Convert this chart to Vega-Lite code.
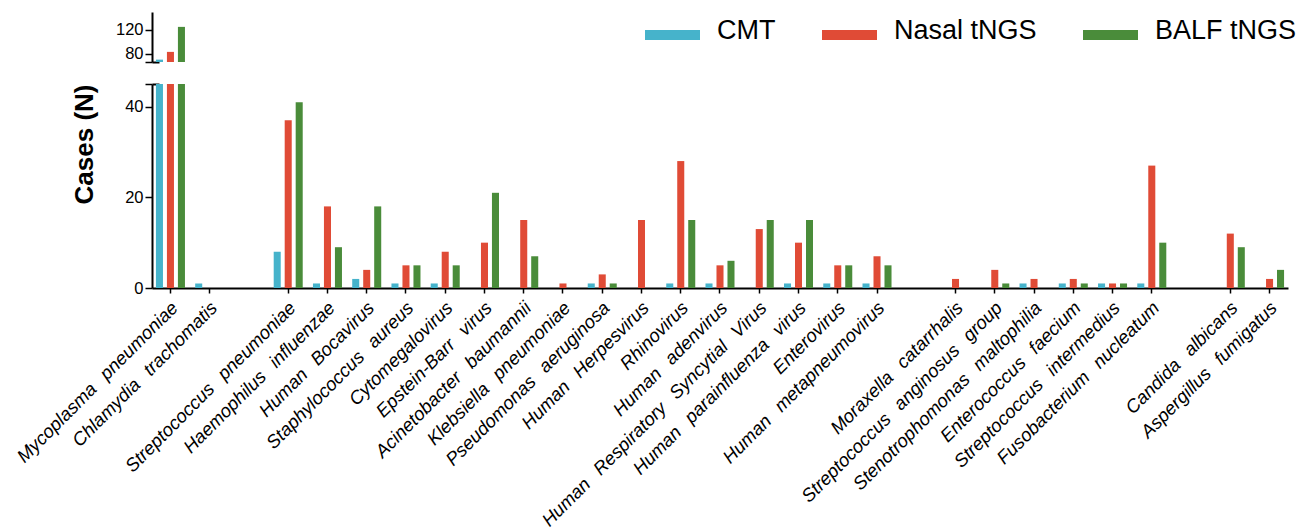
{
  "$schema": "https://vega.github.io/schema/vega-lite/v6.json",
  "padding": {"left": 13, "top": 3, "right": 5, "bottom": 0},
  "config": {
    "font": "Liberation Sans",
    "view": {"stroke": null},
    "axis": {"grid": false, "domainColor": "black", "tickColor": "black", "labelColor": "black", "titleColor": "black", "domainWidth": 2, "tickWidth": 1.5}
  },
  "data": {"values": [
    {"pathogen": "Mycoplasma pneumoniae", "method": "CMT", "cases": 70},
    {"pathogen": "Mycoplasma pneumoniae", "method": "Nasal tNGS", "cases": 83},
    {"pathogen": "Mycoplasma pneumoniae", "method": "BALF tNGS", "cases": 125},
    {"pathogen": "Chlamydia trachomatis", "method": "CMT", "cases": 1},
    {"pathogen": "Chlamydia trachomatis", "method": "Nasal tNGS", "cases": 0},
    {"pathogen": "Chlamydia trachomatis", "method": "BALF tNGS", "cases": 0},
    {"pathogen": "Streptococcus pneumoniae", "method": "CMT", "cases": 8},
    {"pathogen": "Streptococcus pneumoniae", "method": "Nasal tNGS", "cases": 37},
    {"pathogen": "Streptococcus pneumoniae", "method": "BALF tNGS", "cases": 41},
    {"pathogen": "Haemophilus influenzae", "method": "CMT", "cases": 1},
    {"pathogen": "Haemophilus influenzae", "method": "Nasal tNGS", "cases": 18},
    {"pathogen": "Haemophilus influenzae", "method": "BALF tNGS", "cases": 9},
    {"pathogen": "Human Bocavirus", "method": "CMT", "cases": 2},
    {"pathogen": "Human Bocavirus", "method": "Nasal tNGS", "cases": 4},
    {"pathogen": "Human Bocavirus", "method": "BALF tNGS", "cases": 18},
    {"pathogen": "Staphylococcus aureus", "method": "CMT", "cases": 1},
    {"pathogen": "Staphylococcus aureus", "method": "Nasal tNGS", "cases": 5},
    {"pathogen": "Staphylococcus aureus", "method": "BALF tNGS", "cases": 5},
    {"pathogen": "Cytomegalovirus", "method": "CMT", "cases": 1},
    {"pathogen": "Cytomegalovirus", "method": "Nasal tNGS", "cases": 8},
    {"pathogen": "Cytomegalovirus", "method": "BALF tNGS", "cases": 5},
    {"pathogen": "Epstein-Barr virus", "method": "CMT", "cases": 0},
    {"pathogen": "Epstein-Barr virus", "method": "Nasal tNGS", "cases": 10},
    {"pathogen": "Epstein-Barr virus", "method": "BALF tNGS", "cases": 21},
    {"pathogen": "Acinetobacter baumannii", "method": "CMT", "cases": 0},
    {"pathogen": "Acinetobacter baumannii", "method": "Nasal tNGS", "cases": 15},
    {"pathogen": "Acinetobacter baumannii", "method": "BALF tNGS", "cases": 7},
    {"pathogen": "Klebsiella pneumoniae", "method": "CMT", "cases": 0},
    {"pathogen": "Klebsiella pneumoniae", "method": "Nasal tNGS", "cases": 1},
    {"pathogen": "Klebsiella pneumoniae", "method": "BALF tNGS", "cases": 0},
    {"pathogen": "Pseudomonas aeruginosa", "method": "CMT", "cases": 1},
    {"pathogen": "Pseudomonas aeruginosa", "method": "Nasal tNGS", "cases": 3},
    {"pathogen": "Pseudomonas aeruginosa", "method": "BALF tNGS", "cases": 1},
    {"pathogen": "Human Herpesvirus", "method": "CMT", "cases": 0},
    {"pathogen": "Human Herpesvirus", "method": "Nasal tNGS", "cases": 15},
    {"pathogen": "Human Herpesvirus", "method": "BALF tNGS", "cases": 0},
    {"pathogen": "Rhinovirus", "method": "CMT", "cases": 1},
    {"pathogen": "Rhinovirus", "method": "Nasal tNGS", "cases": 28},
    {"pathogen": "Rhinovirus", "method": "BALF tNGS", "cases": 15},
    {"pathogen": "Human adenvirus", "method": "CMT", "cases": 1},
    {"pathogen": "Human adenvirus", "method": "Nasal tNGS", "cases": 5},
    {"pathogen": "Human adenvirus", "method": "BALF tNGS", "cases": 6},
    {"pathogen": "Human Respiratory Syncytial Virus", "method": "CMT", "cases": 0},
    {"pathogen": "Human Respiratory Syncytial Virus", "method": "Nasal tNGS", "cases": 13},
    {"pathogen": "Human Respiratory Syncytial Virus", "method": "BALF tNGS", "cases": 15},
    {"pathogen": "Human parainfluenza virus", "method": "CMT", "cases": 1},
    {"pathogen": "Human parainfluenza virus", "method": "Nasal tNGS", "cases": 10},
    {"pathogen": "Human parainfluenza virus", "method": "BALF tNGS", "cases": 15},
    {"pathogen": "Enterovirus", "method": "CMT", "cases": 1},
    {"pathogen": "Enterovirus", "method": "Nasal tNGS", "cases": 5},
    {"pathogen": "Enterovirus", "method": "BALF tNGS", "cases": 5},
    {"pathogen": "Human metapneumovirus", "method": "CMT", "cases": 1},
    {"pathogen": "Human metapneumovirus", "method": "Nasal tNGS", "cases": 7},
    {"pathogen": "Human metapneumovirus", "method": "BALF tNGS", "cases": 5},
    {"pathogen": "Moraxella catarrhalis", "method": "CMT", "cases": 0},
    {"pathogen": "Moraxella catarrhalis", "method": "Nasal tNGS", "cases": 2},
    {"pathogen": "Moraxella catarrhalis", "method": "BALF tNGS", "cases": 0},
    {"pathogen": "Streptococcus anginosus group", "method": "CMT", "cases": 0},
    {"pathogen": "Streptococcus anginosus group", "method": "Nasal tNGS", "cases": 4},
    {"pathogen": "Streptococcus anginosus group", "method": "BALF tNGS", "cases": 1},
    {"pathogen": "Stenotrophomonas maltophilia", "method": "CMT", "cases": 1},
    {"pathogen": "Stenotrophomonas maltophilia", "method": "Nasal tNGS", "cases": 2},
    {"pathogen": "Stenotrophomonas maltophilia", "method": "BALF tNGS", "cases": 0},
    {"pathogen": "Enterococcus faecium", "method": "CMT", "cases": 1},
    {"pathogen": "Enterococcus faecium", "method": "Nasal tNGS", "cases": 2},
    {"pathogen": "Enterococcus faecium", "method": "BALF tNGS", "cases": 1},
    {"pathogen": "Streptococcus intermedius", "method": "CMT", "cases": 1},
    {"pathogen": "Streptococcus intermedius", "method": "Nasal tNGS", "cases": 1},
    {"pathogen": "Streptococcus intermedius", "method": "BALF tNGS", "cases": 1},
    {"pathogen": "Fusobacterium nucleatum", "method": "CMT", "cases": 1},
    {"pathogen": "Fusobacterium nucleatum", "method": "Nasal tNGS", "cases": 27},
    {"pathogen": "Fusobacterium nucleatum", "method": "BALF tNGS", "cases": 10},
    {"pathogen": "Candida albicans", "method": "CMT", "cases": 0},
    {"pathogen": "Candida albicans", "method": "Nasal tNGS", "cases": 12},
    {"pathogen": "Candida albicans", "method": "BALF tNGS", "cases": 9},
    {"pathogen": "Aspergillus fumigatus", "method": "CMT", "cases": 0},
    {"pathogen": "Aspergillus fumigatus", "method": "Nasal tNGS", "cases": 2},
    {"pathogen": "Aspergillus fumigatus", "method": "BALF tNGS", "cases": 4}
  ]},
  "spacing": 20,
  "resolve": {"legend": {"color": "independent"}},
  "vconcat": [
    {
      "width": 1136,
      "height": 50,
      "layer": [
        {
          "mark": {"type": "bar", "clip": true},
          "encoding": {
            "x": {"field": "pathogen", "type": "nominal", "sort": null,
              "scale": {"domain": ["Mycoplasma pneumoniae", "Chlamydia trachomatis", "gap1", "Streptococcus pneumoniae", "Haemophilus influenzae", "Human Bocavirus", "Staphylococcus aureus", "Cytomegalovirus", "Epstein-Barr virus", "Acinetobacter baumannii", "Klebsiella pneumoniae", "Pseudomonas aeruginosa", "Human Herpesvirus", "Rhinovirus", "Human adenvirus", "Human Respiratory Syncytial Virus", "Human parainfluenza virus", "Enterovirus", "Human metapneumovirus", "gap2", "Moraxella catarrhalis", "Streptococcus anginosus group", "Stenotrophomonas maltophilia", "Enterococcus faecium", "Streptococcus intermedius", "Fusobacterium nucleatum", "gap3", "Candida albicans", "Aspergillus fumigatus"], "paddingInner": 0.16, "paddingOuter": 0.05},
              "axis": null},
            "xOffset": {"field": "method", "type": "nominal", "scale": {"domain": ["CMT", "Nasal tNGS", "BALF tNGS"], "paddingInner": 0.36, "paddingOuter": 0.18}},
            "y": {"field": "cases", "type": "quantitative", "stack": null,
              "scale": {"domain": [66, 150], "nice": false, "zero": false},
              "axis": {"values": [66, 80, 120], "labelExpr": "datum.value == 66 ? '' : datum.label", "title": null, "tickSize": 7, "labelFontSize": 16.5, "labelPadding": 2}},
            "y2": {"datum": 0},
            "color": {"field": "method", "type": "nominal",
              "scale": {"domain": ["CMT", "Nasal tNGS", "BALF tNGS"], "range": ["#46B3CB", "#E04B36", "#4A8C3A"]},
              "legend": {"orient": "none", "legendX": 493, "legendY": -8.6, "direction": "horizontal", "title": null, "symbolType": "M-1,-0.04H1V0.32H-1Z", "symbolSize": 3025, "symbolStrokeWidth": 0, "symbolOpacity": 1, "labelFontSize": 27, "labelOffset": 17, "columnPadding": 46, "padding": 0, "labelColor": "black"}}
          }
        },
        {
          "mark": {"type": "rule", "strokeOpacity": 0},
          "encoding": {
            "y": {"datum": 66, "type": "quantitative", "axis": {"orient": "left", "offset": -7, "values": [66], "labels": false, "domain": false, "title": null, "tickSize": 7, "tickWidth": 2}}
          }
        }
      ],
      "resolve": {"axis": {"y": "independent"}}
    },
    {
      "width": 1136,
      "height": 204,
      "layer": [
        {
          "mark": {"type": "bar", "clip": true},
          "encoding": {
            "x": {"field": "pathogen", "type": "nominal", "sort": null,
              "scale": {"domain": ["Mycoplasma pneumoniae", "Chlamydia trachomatis", "gap1", "Streptococcus pneumoniae", "Haemophilus influenzae", "Human Bocavirus", "Staphylococcus aureus", "Cytomegalovirus", "Epstein-Barr virus", "Acinetobacter baumannii", "Klebsiella pneumoniae", "Pseudomonas aeruginosa", "Human Herpesvirus", "Rhinovirus", "Human adenvirus", "Human Respiratory Syncytial Virus", "Human parainfluenza virus", "Enterovirus", "Human metapneumovirus", "gap2", "Moraxella catarrhalis", "Streptococcus anginosus group", "Stenotrophomonas maltophilia", "Enterococcus faecium", "Streptococcus intermedius", "Fusobacterium nucleatum", "gap3", "Candida albicans", "Aspergillus fumigatus"], "paddingInner": 0.16, "paddingOuter": 0.05},
              "axis": {"values": ["Mycoplasma pneumoniae", "Chlamydia trachomatis", "Streptococcus pneumoniae", "Haemophilus influenzae", "Human Bocavirus", "Staphylococcus aureus", "Cytomegalovirus", "Epstein-Barr virus", "Acinetobacter baumannii", "Klebsiella pneumoniae", "Pseudomonas aeruginosa", "Human Herpesvirus", "Rhinovirus", "Human adenvirus", "Human Respiratory Syncytial Virus", "Human parainfluenza virus", "Enterovirus", "Human metapneumovirus", "Moraxella catarrhalis", "Streptococcus anginosus group", "Stenotrophomonas maltophilia", "Enterococcus faecium", "Streptococcus intermedius", "Fusobacterium nucleatum", "Candida albicans", "Aspergillus fumigatus"],
                "labelExpr": "replace(datum.label, / /g, '\u2002\u2009')",
                "title": null, "labelAngle": -45, "labelAlign": "right", "labelBaseline": "top", "labelFontSize": 18.5, "labelFontStyle": "italic", "labelLimit": 500, "labelPadding": 5, "labelOffset": -2, "tickSize": 5, "labelOverlap": false}},
            "xOffset": {"field": "method", "type": "nominal", "scale": {"domain": ["CMT", "Nasal tNGS", "BALF tNGS"], "paddingInner": 0.36, "paddingOuter": 0.18}},
            "y": {"field": "cases", "type": "quantitative", "stack": null,
              "scale": {"domain": [0, 45], "nice": false},
              "axis": {"values": [0, 20, 40, 45], "labelExpr": "datum.value == 45 ? '' : datum.label", "title": "Cases (N)", "titleFontSize": 26, "titleFontWeight": "bold", "titleAnchor": "end", "titlePadding": 27, "tickSize": 7, "labelFontSize": 16.5, "labelPadding": 2}},
            "y2": {"datum": 0},
            "color": {"field": "method", "type": "nominal",
              "scale": {"domain": ["CMT", "Nasal tNGS", "BALF tNGS"], "range": ["#46B3CB", "#E04B36", "#4A8C3A"]},
              "legend": null}
          }
        },
        {
          "mark": {"type": "rule", "strokeOpacity": 0},
          "encoding": {
            "y": {"datum": 45, "type": "quantitative", "axis": {"orient": "left", "offset": -7, "values": [45], "labels": false, "domain": false, "title": null, "tickSize": 7, "tickWidth": 2}}
          }
        }
      ],
      "resolve": {"axis": {"y": "independent"}}
    }
  ]
}
